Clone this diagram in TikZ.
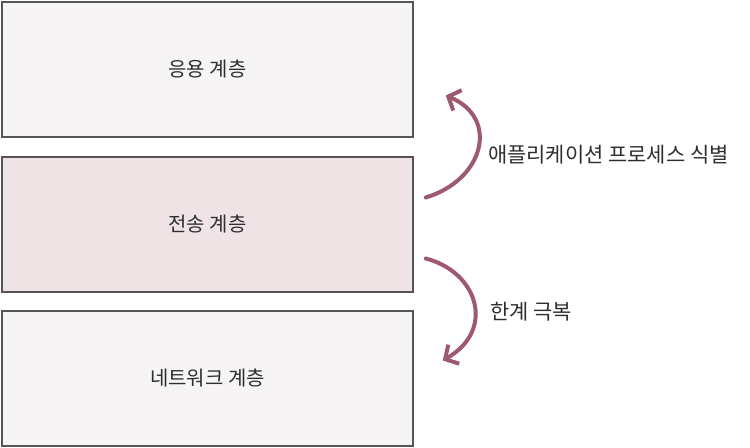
\documentclass[tikz,border=0pt]{standalone}
\usepackage{fontspec}
\usepackage{tikz}
\usetikzlibrary{arrows.meta}
\newfontfamily\kofont{Noto Sans CJK KR}
\definecolor{layergray}{HTML}{F6F4F5}
\definecolor{layerpink}{HTML}{EFE3E6}
\definecolor{edgegray}{HTML}{555555}
\definecolor{arrowmauve}{HTML}{9E5A6C}
\definecolor{textgray}{HTML}{2E2E2E}
\tikzset{
	layer/.style={draw=edgegray, line width=1.5bp, minimum width=411bp, minimum height=135bp, font=\kofont\fontsize{20}{24}\selectfont, text=textgray},
	flow/.style={arrowmauve, line width=4bp, line cap=round, -{Straight Barb[length=10bp, width=22bp, line width=4bp]}},
	remark/.style={anchor=west, font=\kofont\fontsize{21}{24}\selectfont, text=textgray, inner sep=0pt}
}
\begin{document}
\begin{tikzpicture}[x=1bp, y=-1bp]
	\useasboundingbox (0,0) rectangle (750,448);
	\foreach \name/\ypos/\fillc/\txt in {app/69.5/layergray/응용 계층, trans/224.5/layerpink/전송 계층, net/378.5/layergray/네트워크 계층}{
		\node[layer, fill=\fillc](\name) at (207.5,\ypos){\txt};
	}
	\coordinate (upstart) at ([shift={(12,-27)}]trans.east);
	\coordinate (upend) at ([shift={(32,26)}]app.east);
	\coordinate (downstart) at ([shift={(12,34)}]trans.east);
	\coordinate (downend) at ([shift={(29,-18)}]net.east);
	\draw[flow](upstart) .. controls (484,180) and (500,118) .. (upend);
	\draw[flow](downstart) .. controls (478,272) and (496,330) .. (downend);
	\node[remark](ident) at (488,155){애플리케이션 프로세스 식별};
	\node[remark](over) at (490,312){한계 극복};
\end{tikzpicture}
\end{document}
